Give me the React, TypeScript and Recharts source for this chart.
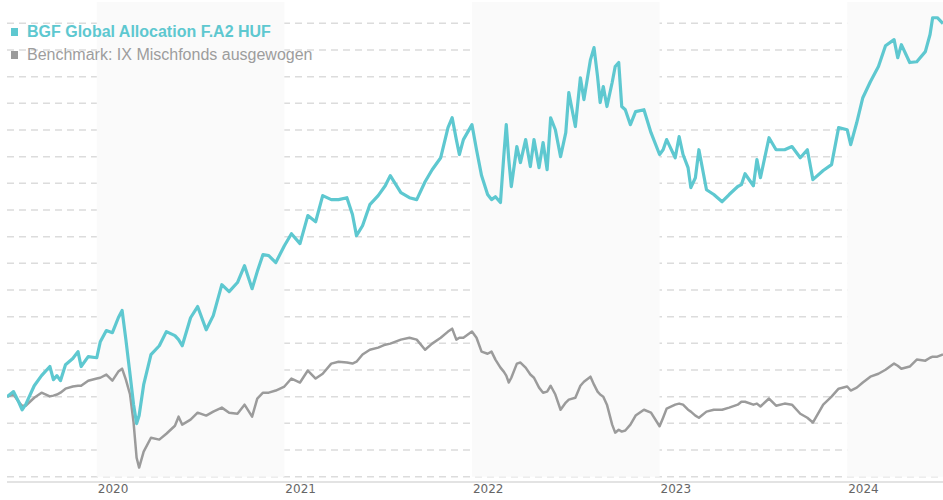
import { LineChart, Line, XAxis, YAxis, CartesianGrid, ReferenceArea } from 'recharts';

const TEAL = '#5ec8d0';
const GREY = '#9b9b9b';

const DATES = [
    '2019-07-09', '2019-07-22', '2019-08-01', '2019-08-08', '2019-08-15', '2019-09-01', '2019-09-15', '2019-10-01',
    '2019-10-08', '2019-10-15', '2019-10-22', '2019-11-01', '2019-11-15', '2019-11-25', '2019-12-01', '2019-12-15',
    '2020-01-01', '2020-01-08', '2020-01-20', '2020-02-01', '2020-02-12', '2020-02-19', '2020-02-26', '2020-03-05',
    '2020-03-12', '2020-03-18', '2020-03-23', '2020-04-01', '2020-04-15', '2020-05-01', '2020-05-15', '2020-06-01',
    '2020-06-08', '2020-06-15', '2020-07-01', '2020-07-15', '2020-08-01', '2020-08-15', '2020-09-01', '2020-09-15',
    '2020-10-01', '2020-10-15', '2020-10-30', '2020-11-09', '2020-11-20', '2020-12-01', '2020-12-15',
    '2021-01-01', '2021-01-15', '2021-02-01', '2021-02-15', '2021-03-01', '2021-03-15', '2021-04-01', '2021-04-15',
    '2021-05-01', '2021-05-12', '2021-05-20', '2021-06-01', '2021-06-15', '2021-07-01', '2021-07-15', '2021-07-25',
    '2021-08-15', '2021-09-01', '2021-09-15', '2021-10-01', '2021-10-15', '2021-11-01', '2021-11-15', '2021-11-23',
    '2021-12-01', '2021-12-07', '2021-12-15',
    '2022-01-01', '2022-01-10', '2022-01-20', '2022-02-01', '2022-02-08', '2022-02-15', '2022-02-24', '2022-03-02',
    '2022-03-07', '2022-03-12', '2022-03-17', '2022-03-28', '2022-04-04', '2022-04-14', '2022-04-23', '2022-04-30',
    '2022-05-10', '2022-05-18', '2022-05-26', '2022-06-02', '2022-06-11', '2022-06-21', '2022-07-01', '2022-07-07',
    '2022-07-20', '2022-07-30', '2022-08-06', '2022-08-19', '2022-08-26', '2022-09-02', '2022-09-07', '2022-09-13',
    '2022-09-20', '2022-09-30', '2022-10-06', '2022-10-13', '2022-10-19', '2022-10-26', '2022-11-05', '2022-11-15',
    '2022-12-01', '2022-12-15',
    '2023-01-01', '2023-01-08', '2023-01-15', '2023-02-01', '2023-02-08', '2023-02-15', '2023-02-24', '2023-03-01',
    '2023-03-10', '2023-03-17', '2023-04-01', '2023-04-15', '2023-05-01', '2023-05-15', '2023-06-01', '2023-06-08',
    '2023-06-15', '2023-07-01', '2023-07-08', '2023-07-15', '2023-08-01', '2023-08-15', '2023-09-01', '2023-09-15',
    '2023-10-01', '2023-10-15', '2023-10-26', '2023-11-15', '2023-12-01', '2023-12-15',
    '2024-01-01', '2024-01-08', '2024-01-20', '2024-02-01', '2024-02-15', '2024-03-01', '2024-03-15', '2024-04-01',
    '2024-04-08', '2024-04-15', '2024-05-01', '2024-05-15', '2024-06-01', '2024-06-10', '2024-06-15', '2024-06-24',
    '2024-07-05',
];

// BGF Global Allocation F.A2 HUF
const FUND = [
    30, 31.9, 28.1, 25.1, 27, 34.1, 37.9, 41.3, 36.4, 37.9, 36, 42, 44.3, 46.9, 41.3, 45,
    44.6, 50.6, 54.8, 54, 59.6, 62.3, 51.4, 38.3, 27, 19.9, 22.9, 34.5, 45.8, 49.1, 54.4, 52.9,
    51.4, 49.1, 59.6, 63.8, 55.1, 60.4, 72, 69.4, 72.8, 79.1, 70.5, 76.9, 83.3, 82.9, 80.3,
    86.6, 91.1, 87.4, 97.9, 95.6, 105.4, 103.9, 103.9, 104.6, 98.3, 90.4, 94.1, 102, 105.4, 109.1,
    112.9, 106.5, 104.6, 103.9, 110.6, 115.1, 119.6, 130.9, 134.6, 126.4, 120.8, 126.4,
    132, 122.6, 112.9, 105.8, 103.9, 105, 102.8, 120, 132, 118.9, 108.8, 123.8, 117.8, 126.4, 116.3, 126.4,
    115.9, 125.3, 115.1, 134.6, 130.1, 120, 129, 144, 131.3, 149.6, 141.4, 156.4, 160.9, 150, 140.3, 146.3,
    138.8, 147.8, 153.8, 155.3, 138.8, 137.6, 132, 136.9, 137.6, 129,
    120.8, 122.6, 126.4, 119.6, 127.5, 120.8, 115.9, 108.4, 112.1, 122.6, 107.6, 105.8, 103.1, 105.8, 108.8, 109.5,
    113.6, 109.1, 118.9, 112.1, 127.1, 122.6, 122.6, 123.8, 119.6, 122.6, 111.4, 114.8, 117, 130.9,
    130.1, 124.5, 132.8, 142.1, 148.1, 153.8, 161.6, 163.9, 157.1, 162, 155.3, 155.6, 159.4, 165.8,
    172.1, 172.1, 169.9,
];

// Benchmark: IX Mischfonds ausgewogen
const BENCHMARK = [
    30, 30.8, 28.1, 26.6, 26.6, 29.6, 31.5, 30.1, 30.4, 30.8, 31.5, 33, 33.8, 34.1, 34.1, 36,
    36.8, 37.1, 38.3, 36, 39.4, 40.5, 36.4, 30.8, 20.3, 7.1, 3.4, 9.4, 14.6, 13.9, 16.1, 19.1,
    22.5, 19.5, 21.4, 24, 22.9, 24.4, 25.9, 24, 23.6, 27, 22.5, 29.3, 31.5, 31.5, 32.3,
    33.8, 36.8, 35.3, 39.8, 36.8, 38.6, 42.4, 43.1, 42.8, 42.4, 43.1, 45.8, 47.6, 48.4, 49.5,
    49.9, 51.4, 52.1, 51.4, 47.6, 49.9, 52.1, 54.4, 55.5, 51.4, 52.1, 52.1,
    54.4, 52.1, 46.9, 46.1, 46.9, 43.9, 40.9, 39.4, 37.9, 35.3, 37.1, 42.4, 42.8, 40.9, 38.3, 37.1,
    33.4, 31.5, 31.9, 34.1, 30.8, 25.1, 27.8, 28.9, 29.6, 34.1, 35.6, 37.5, 34.5, 31.9, 30.8, 30,
    27, 19.5, 16.5, 17.6, 16.9, 17.3, 19.5, 22.9, 25.1, 24,
    18.9, 22.1, 25.5, 27, 27.4, 27, 25.1, 24.4, 22.9, 22.1, 24.4, 25.1, 25.1, 25.9, 27, 28.1,
    28.1, 27, 27.4, 26.3, 29.3, 26.6, 27.4, 27, 23.6, 22.1, 20.3, 27, 30, 33,
    33.8, 32.3, 33.4, 35.3, 37.5, 38.6, 40.1, 42.4, 41.6, 40.5, 41.3, 43.9, 43.5, 44.6,
    45, 45, 45.8,
];

const YEAR_TICKS = [2020, 2021, 2022, 2023, 2024];
const GRID_VALUES = [0, 10, 20, 30, 40, 50, 60, 70, 80, 90, 100, 110, 120, 130, 140, 150, 160, 170];
const SHADED_YEARS = [[2020, 2021], [2022, 2023], [2024, 2025]];

// date string -> fractional year (months treated as equal twelfths)
const toYear = (d: string) => {
    const [y, m, day] = d.split('-').map(Number);
    const dim = new Date(y, m, 0).getDate();
    return y + (m - 1) / 12 + (day - 1) / (dim * 12);
};

const data = DATES.map((d, i) => ({ t: toYear(d), fund: FUND[i], bench: BENCHMARK[i] }));
const tMin = data[0].t;
const tMax = data[data.length - 1].t;

function YearTick({ x = 0, y = 0, payload }: any) {
    return (
        <text x={x + 1} y={y + 11} textAnchor="start" fontSize={12} fill="#666"
            fontFamily="'DejaVu Sans', Verdana, sans-serif">
            {payload.value}
        </text>
    );
}

export default function App() {
    return (
        <div style={{ position: 'absolute', left: 0, top: 0, width: 943, height: 500, background: '#fff' }}>
            <LineChart width={943} height={500} data={data} margin={{ top: 2, right: 0, bottom: 0, left: 7 }}>
                {SHADED_YEARS.map(([a, b]) => (
                    <ReferenceArea key={a} x1={a} x2={Math.min(b, tMax)} y1={0} y2={178}
                        fill="#fafafa" fillOpacity={1} stroke="none" ifOverflow="hidden" />
                ))}
                <CartesianGrid vertical={false} horizontalValues={GRID_VALUES}
                    stroke="#dcdcdc" strokeWidth={1.5} strokeDasharray="7 5" />
                <XAxis dataKey="t" type="number" domain={[tMin, tMax]} ticks={YEAR_TICKS}
                    allowDataOverflow height={18} tickLine={false} tickSize={0} tickMargin={0}
                    axisLine={{ stroke: '#dadada', strokeWidth: 1.5 }} tick={<YearTick />} />
                <YAxis hide domain={[-2, 178]} ticks={GRID_VALUES} />
                <Line dataKey="bench" type="linear" stroke={GREY} strokeWidth={2.5} dot={false}
                    strokeLinejoin="round" isAnimationActive={false} />
                <Line dataKey="fund" type="linear" stroke={TEAL} strokeWidth={3.2} dot={false}
                    strokeLinejoin="round" isAnimationActive={false} />
            </LineChart>
            <div style={{ position: 'absolute', left: 11, top: 20, fontFamily: "'Liberation Sans', Arial, sans-serif", fontSize: 16, lineHeight: '23px', whiteSpace: 'nowrap' }}>
                <div style={{ display: 'flex', alignItems: 'center', color: TEAL, fontWeight: 700 }}>
                    <span style={{ width: 7, height: 8, background: TEAL, marginRight: 9 }} />
                    BGF Global Allocation F.A2 HUF
                </div>
                <div style={{ display: 'flex', alignItems: 'center', color: '#9d9d9d' }}>
                    <span style={{ width: 7, height: 8, background: GREY, marginRight: 9 }} />
                    Benchmark: IX Mischfonds ausgewogen
                </div>
            </div>
        </div>
    );
}
